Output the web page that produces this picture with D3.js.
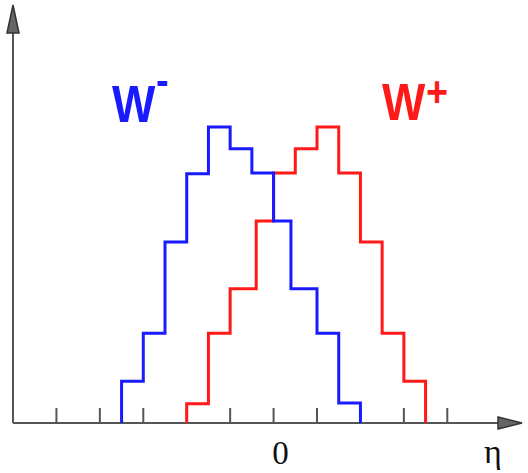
<!DOCTYPE html>
<html>
<head>
<meta charset="utf-8">
<script src="https://cdn.jsdelivr.net/npm/d3@7"></script>
<style>
  html, body { margin: 0; padding: 0; background: #fff; }
  svg { display: block; }
</style>
</head>
<body>
<svg id="chart" width="528" height="473"></svg>
<script>
// Pseudorapidity bin edges and yields for each charge
const wMinusEdges = [-3.5, -3, -2.5, -2, -1.5, -1, -0.5, 0, 0.4, 1, 1.5, 2];
const wMinusValues = [10, 21.5, 43.3, 59.6, 70.8, 65.6, 59.8, 48.3, 32.1, 21.5, 4.8];
const wPlusEdges = [-2, -1.5, -1, -0.4, 0, 0.5, 1, 1.5, 2, 2.5, 3, 3.5];
const wPlusValues = [4.6, 21.5, 32.1, 48.3, 59.8, 65.6, 70.8, 59.8, 43.3, 21.5, 10];
const tickValues = [-5, -4, -3, -2, -1, 0, 1, 2, 3, 4];
const tickLabels = [{ v: 0, text: "0" }];

const svg = d3.select("#chart");

const x = d3.scaleLinear().domain([-6.0, 5.72]).range([13, 522]);
const y = d3.scaleLinear().domain([0, 100]).range([423, 5]);

const axisColor = "#555";

// Axes with arrowheads
const g = svg.append("g");
g.append("line")
  .attr("x1", x(-6.0)).attr("x2", x(5.6))
  .attr("y1", y(0)).attr("y2", y(0))
  .attr("stroke", axisColor).attr("stroke-width", 2);
g.append("line")
  .attr("x1", x(-6.0)).attr("x2", x(-6.0))
  .attr("y1", y(0)).attr("y2", y(95))
  .attr("stroke", axisColor).attr("stroke-width", 2);

// x arrowhead
const xa = x(5.72), ya = y(0);
g.append("path")
  .attr("d", `M${xa},${ya} L${xa - 24},${ya - 6} L${xa - 24},${ya + 6} Z`)
  .attr("fill", "#666").attr("stroke", "#333").attr("stroke-width", 1.5)
  .attr("stroke-linejoin", "miter");
// y arrowhead
const xb = x(-6.0), yb = y(100);
g.append("path")
  .attr("d", `M${xb},${yb} L${xb - 6},${yb + 28} L${xb + 6},${yb + 28} Z`)
  .attr("fill", "#666").attr("stroke", "#333").attr("stroke-width", 1.5);

// Tick marks
g.selectAll("line.tick")
  .data(tickValues)
  .join("line")
  .attr("class", "tick")
  .attr("x1", d => x(d)).attr("x2", d => x(d))
  .attr("y1", y(0)).attr("y2", y(0) - 15)
  .attr("stroke", axisColor).attr("stroke-width", 2);

// Tick labels and axis title
g.selectAll("text.tlabel")
  .data(tickLabels)
  .join("text")
  .attr("class", "tlabel")
  .attr("x", d => x(d.v) + 7)
  .attr("y", 464)
  .attr("text-anchor", "middle")
  .attr("font-family", "Liberation Serif, serif")
  .attr("font-size", 33)
  .attr("fill", "#111")
  .text(d => d.text);

g.append("text")
  .attr("x", 493).attr("y", 463)
  .attr("text-anchor", "middle")
  .attr("font-family", "Liberation Serif, serif")
  .attr("font-size", 34)
  .attr("fill", "#111")
  .text("η");

// Step outline of a histogram
function stepPoints(edges, values) {
  const pts = [[edges[0], 0]];
  values.forEach((v, i) => {
    pts.push([edges[i], v]);
    pts.push([edges[i + 1], v]);
  });
  pts.push([edges[edges.length - 1], 0]);
  return pts;
}
const line = d3.line().x(d => x(d[0])).y(d => y(d[1]));

svg.append("path")
  .attr("d", line(stepPoints(wPlusEdges, wPlusValues)))
  .attr("fill", "none").attr("stroke", "#ff1a1a").attr("stroke-width", 3)
  .attr("stroke-linejoin", "miter");
svg.append("path")
  .attr("d", line(stepPoints(wMinusEdges, wMinusValues)))
  .attr("fill", "none").attr("stroke", "#1a1aff").attr("stroke-width", 3)
  .attr("stroke-linejoin", "miter");

// Charge labels
const labelFont = "Liberation Sans, Arial, sans-serif";
function chargeLabel(xPos, base, color, sup, supDy, supDx) {
  const t = svg.append("g").attr("transform", `translate(${xPos},${base}) scale(0.9,1)`);
  t.append("text")
    .attr("x", 0).attr("y", 0)
    .attr("font-family", labelFont).attr("font-weight", "bold")
    .attr("font-size", 51).attr("fill", color)
    .text("W");
  t.append("text")
    .attr("x", supDx).attr("y", supDy)
    .attr("font-family", labelFont).attr("font-weight", "bold")
    .attr("font-size", 42).attr("fill", color)
    .text(sup);
}
chargeLabel(112, 122, "#1a1aff", "-", -27, 49);
chargeLabel(382, 120, "#ff1a1a", "+", -14, 49);
</script>
</body>
</html>
